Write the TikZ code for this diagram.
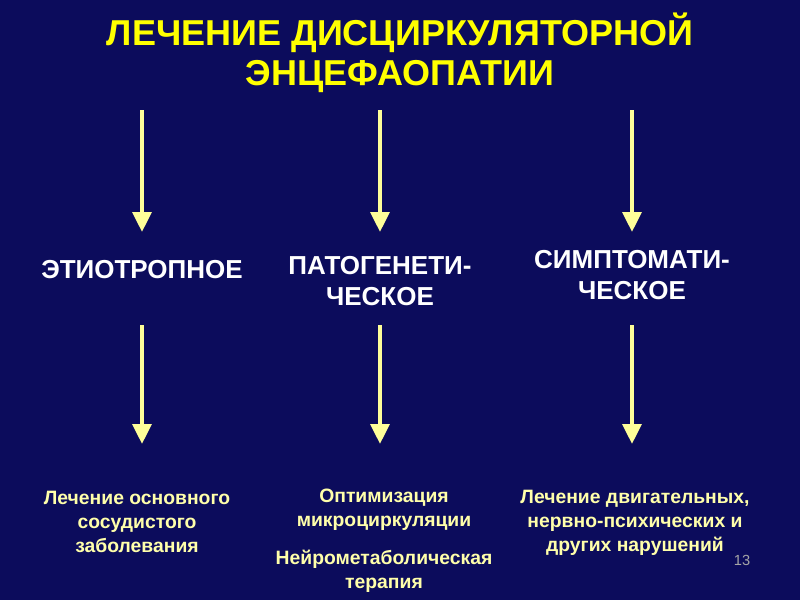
\documentclass[tikz,border=0pt]{standalone}
\usepackage{fontspec}
\setmainfont{Liberation Sans}
\usetikzlibrary{arrows.meta}
\definecolor{bg}{RGB}{12,12,92}
\definecolor{ttl}{RGB}{255,255,0}
\definecolor{arr}{RGB}{255,255,153}
\definecolor{low}{RGB}{255,255,170}
\tikzset{
  arrowline/.style={draw=arr,line width=3.2pt,-{Triangle[length=15pt,width=14pt]}},
  head/.style={text=white,font=\bfseries\fontsize{19.5}{23}\selectfont,align=center},
  lowtxt/.style={text=low,font=\bfseries\fontsize{14.5}{18}\selectfont,align=center},
}
\begin{document}
\begin{tikzpicture}[x=0.75pt,y=-0.75pt]
\fill[bg] (0,0) rectangle (800,600);
\useasboundingbox (0,0) rectangle (800,600);
\node[text=ttl,font=\bfseries\fontsize{27}{30}\selectfont,align=center] (title) at (400,53) {ЛЕЧЕНИЕ ДИСЦИРКУЛЯТОРНОЙ\\ЭНЦЕФАОПАТИИ};
\coordinate (a1) at (142,110); \coordinate (a2) at (380,110); \coordinate (a3) at (632,110);
\coordinate (b1) at (142,232); \coordinate (b2) at (380,232); \coordinate (b3) at (632,232);
\coordinate (c1) at (142,325); \coordinate (c2) at (380,325); \coordinate (c3) at (632,325);
\coordinate (d1) at (142,444); \coordinate (d2) at (380,444); \coordinate (d3) at (632,444);
\foreach \i in {1,2,3}{
  \draw[arrowline] (a\i) -- (b\i);
  \draw[arrowline] (c\i) -- (d\i);
}
\node[head] (h1) at (142,270) {ЭТИОТРОПНОЕ};
\node[head] (h2) at (380,281) {ПАТОГЕНЕТИ-\\ЧЕСКОЕ};
\node[head] (h3) at (632,275) {СИМПТОМАТИ-\\ЧЕСКОЕ};
\node[lowtxt] (l1) at (137,522) {Лечение основного\\сосудистого\\заболевания};
\node[lowtxt] (l2) at (384,510) {Оптимизация\\микроциркуляции};
\node[lowtxt] (l2b) at (384,571) {Нейрометаболическая\\терапия};
\node[lowtxt] (l3) at (635,523) {Лечение двигательных,\\нервно-психических и\\других нарушений};
\node[text=gray!70,font=\fontsize{11}{13}\selectfont] (pg) at (742,560) {13};
\end{tikzpicture}
\end{document}
